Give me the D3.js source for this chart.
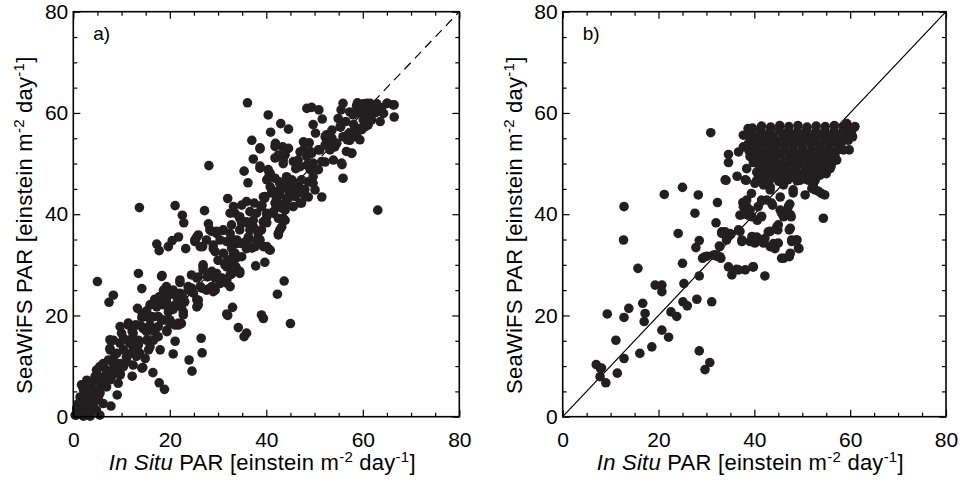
<!DOCTYPE html>
<html>
<head>
<meta charset="utf-8">
<script src="https://cdn.jsdelivr.net/npm/d3@7"></script>
<style>
  body { margin: 0; background: #fff; }
  text { font-family: "Liberation Sans", Arial, Helvetica, sans-serif; fill: #000; }
</style>
</head>
<body>
<svg id="chart" width="963" height="485"></svg>
<script>
// axis ticks (both axes, both panels)
const majorTicks = [0, 20, 40, 60, 80]
const minorTicks = [5, 10, 15, 25, 30, 35, 45, 50, 55, 65, 70, 75]
const panelNames = ['a)', 'b)']

// a) [in situ PAR, SeaWiFS PAR]
const pointsA = [
  [36.1,62.0],[63.1,40.8],[28.1,49.6],[13.7,41.3],[5.0,26.7],[8.3,24.0],[7.4,22.6],[21.1,41.7],[22.6,39.8],[22.9,38.3],
  [27.2,40.7],[17.3,34.1],[17.8,32.8],[19.7,33.6],[20.5,34.8],[23.3,33.2],[13.5,28.3],[18.4,27.9],[14.2,25.3],[13.3,21.4],
  [14.3,20.4],[15.5,19.6],[32.0,20.0],[33.0,21.6],[39.0,20.1],[39.4,19.4],[45.0,18.4],[34.2,17.6],[35.4,15.8],[26.5,15.5],
  [26.7,12.6],[24.0,11.2],[24.6,9.0],[20.7,12.4],[21.1,14.9],[16.5,8.7],[17.8,6.7],[18.9,5.4],[9.1,4.3],[7.8,2.1],
  [5.5,0.3],[14.4,9.7],[12.2,8.0],[37.8,29.8],[39.7,30.5],[43.7,26.8],[42.3,24.2],[32.0,43.1],
  [40.4,59.6],[40.9,56.2],[43.0,57.9],[44.6,56.8],[37.0,54.6],[38.7,52.9],[35.4,48.5],[36.2,46.2],[37.3,50.9],[38.7,49.5],
  [40.6,48.2],[41.9,54.0],[43.4,53.3],[43.9,51.7],[43.5,50.0],[40.8,45.4],[39.4,43.4],[42.7,46.4],[44.2,47.4],[46.1,49.0],
  [47.0,52.3],[47.7,54.3],[48.4,60.9],[49.4,61.1],[50.9,60.6],[49.7,57.7],[50.2,56.0],[51.6,58.8],[51.1,52.7],[49.4,52.0],
  [48.4,51.4],[49.1,49.4],[49.7,46.1],[51.5,43.4],[52.2,50.3],[52.2,55.3],[53.6,56.6],[53.2,54.6],[54.2,53.3],[54.9,58.9],
  [55.5,60.6],[55.9,61.9],[55.4,57.2],[55.9,55.3],[55.7,49.8],[55.9,47.1],[56.6,52.4],[57.3,54.6],[57.7,52.0],[58.1,57.7],
  [58.7,55.3],[57.3,60.2],[58.9,62.0],[59.8,60.6],[60.5,58.9],[60.8,61.9],[61.6,60.9],[62.9,61.8],[61.8,58.6],[63.6,58.3],
  [65.1,61.9],[66.5,61.6],[66.5,59.2],[64.3,59.9],[59.4,56.9],[58.0,56.3],
  [33.5,40.2],[34.5,39.2],[35.9,38.3],[34.5,36.9],[36.3,35.5],[37.3,37.5],[38.3,36.2],[39.4,38.5],[40.1,40.2],[40.6,33.0],
  [39.4,33.6],[33.5,32.3],[32.5,30.9],[31.8,29.6],[33.2,29.6],[32.8,28.2],[31.8,27.0],[30.4,26.3],[34.5,28.3],[29.7,36.2],
  [28.3,36.9],[27.6,34.9],[29.0,33.2],[26.3,33.6],[25.6,35.5],[26.9,29.6],[25.9,27.6],[24.5,28.0],[23.8,25.7],[24.9,24.4],
  [26.3,25.7],[27.6,25.0],[29.0,24.7],[27.8,27.6],[29.7,28.3],[25.6,21.7],[25.9,23.0],[23.1,22.7],[22.1,24.4],[20.7,25.0],
  [19.3,25.7],[22.1,26.5],[21.4,24.0],[19.7,24.0],[17.9,23.7],[17.3,21.7],[18.7,22.4],[19.7,20.7],[20.0,19.1],[21.1,18.1],
  [22.4,18.4],[22.8,20.7],[18.3,19.1],[16.6,19.7],[15.9,18.1],[14.5,17.4],[13.1,18.1],[12.4,16.5],[11.4,18.1],[9.7,17.8],
  [10.0,16.5],[11.7,14.5],[13.5,15.1],[15.2,15.1],[16.6,15.1],[15.6,13.2],[13.8,12.5],[12.4,13.2],[11.0,11.8],[9.7,14.5],
  [8.3,15.1],[7.6,13.2],[8.6,12.2],[9.0,10.5],[7.3,11.2],[6.2,10.5],[5.5,9.9],[4.8,9.2],[6.9,9.2],[8.3,9.2],
  [9.7,8.6],[10.4,9.9],[7.9,7.9],[9.3,6.6],[6.2,7.9],[4.8,7.2],[3.8,6.6],[2.8,7.2],[4.1,5.3],[3.1,4.6],
  [2.1,5.3],[1.4,3.9],[2.4,3.3],[3.8,3.3],[5.2,3.9],[5.5,5.6],[6.9,5.9],[6.2,2.6],[4.1,2.0],[2.9,1.0],
  [1.7,2.0],[0.8,1.0],[1.0,2.6],[0.6,0.3],[2.1,0.1],[3.5,0.1],[3.1,2.3],[4.8,1.3],[0.7,1.6],[2.4,4.6],
  [1.7,6.3],[5.5,4.6],[10.4,15.5],[12.2,16.9],[14.2,19.6],[15.2,20.9],[16.2,22.2],[16.9,23.2],[19.3,22.9],[20.7,21.2],
  [22.4,21.7],[15.2,17.4],[38.0,40.2],[37.3,38.8],[36.6,36.9],[38.7,34.9],[41.4,40.2],[42.1,41.5],[43.5,41.9],[43.9,38.8],
  [42.8,36.9],[42.5,36.2],[44.2,42.9],[44.9,44.2],[45.6,41.5],[47.0,42.2],[47.3,44.2],[46.6,45.8],[45.3,46.8],[48.0,44.9],
  [48.7,43.4],[44.2,45.2],[42.1,42.9],[41.1,44.2],[38.9,41.5],[35.9,42.5],[33.2,41.5],[32.5,40.2],[31.1,36.9],[30.4,34.9],
  [31.8,34.6],[33.9,34.2],[34.9,34.2],[37.7,33.6],[35.9,33.2],[34.9,31.6],[31.1,32.3],[30.0,30.9],[21.8,35.5],[25.2,34.6],
  [48.9,54.1],[52.5,55.7],[53.6,55.0],[55.3,57.3],[56.5,58.3],[57.3,56.0],[56.8,54.7],[58.7,55.3],[59.4,54.7],[57.7,52.1],
  [55.6,50.1],[53.9,50.7],[53.2,52.7],[52.2,53.7],[54.6,54.0],[50.8,52.7],[49.1,52.4],[47.7,52.7],[46.6,50.7],[45.6,50.4],
  [47.0,49.4],[48.4,49.7],[49.7,50.1],[51.5,50.4],[50.8,48.8],[49.1,48.8],[49.7,47.4],[48.7,46.4],[47.3,46.8],[46.0,46.1],
  [44.6,46.8],[44.2,45.5],[42.8,46.1],[41.8,47.1],[40.8,48.1],[40.1,46.8],[43.5,45.1],[45.3,44.8],[47.0,44.8],[48.0,43.8],
  [46.0,43.5],[44.6,43.2],[42.8,43.8],[42.1,44.5],[41.8,42.2],[43.2,41.2],[44.2,41.8],[41.5,40.5],[39.7,43.5],[39.1,41.8],
  [40.1,39.5],[43.5,39.2],[39.4,38.5],[43.2,37.5],[38.7,53.1],[41.8,53.4],[42.5,51.7],[43.5,50.7],[44.6,53.0],[41.8,51.1],
  [40.4,48.8],[38.7,49.1],[40.4,47.1],[50.1,44.8],[58.7,61.4],[60.1,61.8],[61.5,61.9],[62.5,61.1],[65.0,61.9],[66.3,61.6],
  [62.5,60.0],[60.8,60.0],[59.1,60.0],[58.0,59.6],[60.1,58.6],[61.5,58.6],[60.5,57.3],[59.8,56.7],[61.1,57.6],[63.2,60.3],
  [63.9,61.0],[34.9,41.8],[37.5,42.2],[39.7,43.2],[39.0,41.5],[42.2,44.3],[25.9,35.9],[25.2,34.9],[26.8,33.6],[28.0,38.1],
  [28.7,36.6],[29.7,36.6],[31.0,36.8],[32.8,37.9],[32.5,36.2],[34.5,39.5],[36.6,40.5],[35.9,38.5],[34.9,38.2],[39.0,36.9],
  [40.1,38.3],[42.5,39.2],[43.5,39.0],[42.5,35.9],[43.9,40.8],[47.3,42.2],[29.0,33.9],[29.4,32.6],[33.2,34.9],[33.9,34.9],
  [36.3,34.9],[38.0,34.9],[37.0,33.3],[40.1,33.6],[40.8,32.9],[32.8,33.3],[33.2,32.3],[32.1,31.0],[31.4,30.0],[33.7,31.3],
  [33.7,29.6],[34.5,28.7],[32.5,28.0],[30.8,27.4],[26.9,30.0],[26.9,29.0],[25.6,27.4],[28.7,28.7],[29.4,27.4],[30.4,27.0],
  [31.8,26.4],[32.5,25.7],[28.7,25.7],[28.0,25.2],[29.4,25.0],[26.6,25.4],[24.5,25.4],[23.8,25.0],[18.7,25.0],[19.4,23.7],
  [21.4,23.7],[22.8,23.4],[21.8,22.7],[25.6,23.1],[25.9,22.1],[18.0,23.7],[17.3,22.4],[18.7,22.1],[20.0,21.7],[21.1,22.1],
  [18.3,27.7],[22.1,27.0],[16.6,22.4],[16.2,19.8],[17.6,19.8],[18.7,19.1],[20.4,18.5],[21.8,18.1],[19.4,16.8],[17.6,17.8],
  [22.8,20.1],[31.8,20.3],[35.9,16.5],[15.9,22.1],[14.8,19.8],[11.4,18.5],[12.8,18.1],[14.2,17.8],[15.2,16.8],[16.9,16.8],
  [17.6,15.8],[19.4,17.1],[20.0,18.5],[21.8,18.5],[18.0,13.2],[15.9,13.8],[13.5,14.2],[11.8,15.2],[7.6,15.2],[7.6,13.5],
  [9.0,12.5],[10.4,13.2],[12.1,12.5],[13.1,11.9],[14.9,11.5],[14.2,9.6],[12.4,10.2],[11.1,10.9],[9.7,10.5],[8.3,10.5],
  [6.2,9.9],[4.9,9.2],[4.5,7.9],[6.9,8.2],[8.6,8.9],[9.7,8.2],[7.6,7.3],[5.9,6.6],[3.5,6.6],[2.8,5.3],
  [5.5,4.9],[2.1,4.0],[3.5,4.0],[4.9,3.3],[1.4,2.6],[2.8,2.3],[4.1,2.3],[1.0,1.3],[2.1,1.0],[3.5,1.0],[0.4,0.3]
]

// b) [in situ PAR, SeaWiFS PAR]
const pointsB = [
  [7.0,10.3],[7.9,9.5],[7.8,7.9],[9.0,6.7],[9.3,20.3],[11.1,15.1],[11.4,8.6],[12.8,11.5],[12.8,41.5],[12.7,34.9],
  [12.8,19.6],[13.8,21.4],[15.7,29.3],[16.1,12.5],[16.7,22.4],[17.2,20.4],[17.0,18.8],[18.6,13.8],[19.3,26.0],[20.7,26.0],
  [20.7,24.7],[20.7,17.1],[21.2,43.9],[22.1,15.7],[22.6,20.7],[23.8,19.8],[24.1,36.2],[25.0,30.3],[25.0,45.3],[25.3,26.3],
  [25.1,22.7],[26.0,21.9],[27.6,40.2],[27.8,33.4],[28.0,23.2],[28.3,43.8],[28.5,34.8],[28.5,27.8],[28.5,13.0],[29.2,31.3],
  [29.7,9.3],[30.7,10.7],[30.1,31.7],[30.9,56.1],[31.1,22.7],[32.0,38.3],[32.3,42.3],[32.1,31.7],[33.0,31.3],[32.7,33.7],
  [33.2,36.5],[33.9,36.5],[34.2,34.9],[34.1,46.7],[34.6,29.6],[34.6,51.8],[34.6,50.2],[35.1,36.0],[35.3,28.0],[36.3,29.1],
  [36.4,47.5],[36.7,52.3],[36.7,36.9],[37.0,39.8],[37.4,34.9],[37.6,42.3],[38.1,29.0],[37.7,55.6],[38.3,46.7],[38.4,41.5],
  [38.7,39.8],[39.1,34.6],[39.8,29.6],[40.5,35.5],[40.6,38.8],[39.4,44.1],[41.5,39.6],[42.2,27.8],[42.2,35.2],[42.6,42.8],
  [42.9,36.5],[43.3,33.6],[44.0,34.2],[44.3,33.2],[44.9,36.9],[45.0,37.9],[43.8,41.8],[45.4,43.4],[45.7,40.2],[45.7,31.3],
  [47.1,40.2],[47.3,36.9],[47.3,31.6],[47.4,42.0],[47.7,39.5],[47.8,34.9],[48.7,34.9],[49.3,33.2],[54.4,39.2],[52.7,44.8],
  [54.0,44.1],[54.7,43.8],[52.3,45.8],[59.8,52.7],[60.5,55.3],[60.8,57.1],[59.3,57.9],
  [52.0,45.1],[53.4,44.5],[50.6,43.8],[48.1,44.2],[43.3,44.8],[41.9,45.8],[40.1,46.1],[38.1,46.8],[33.9,46.8],[38.4,42.8],
  [37.7,41.5],[39.1,40.8],[40.8,41.5],[41.5,42.8],[37.4,39.9],[39.5,39.5],[41.5,39.5],[43.6,42.2],[45.4,40.8],[47.1,41.5],
  [47.5,39.9],[46.1,39.5],[44.7,37.5],[43.3,36.6],[47.5,37.2],[37.0,36.6],[34.9,36.2],[33.2,36.2],[34.6,35.6],[37.4,34.6],
  [39.5,35.6],[40.1,34.3],[41.9,34.3],[43.6,33.6],[45.0,34.3],[47.8,34.6],[48.9,34.9],[49.2,33.3],[47.5,32.3],[46.1,31.3],
  [32.8,33.6],[32.8,31.6],[31.4,31.9],[29.7,31.6],[36.7,29.0],[39.7,29.6],[40.5,34.6],[31.8,32.0],[8.1,9.6],
  [39.6,57.0],[41.5,57.4],[43.4,57.2],[45.3,57.5],[47.2,57.3],[49.1,57.5],[51.0,57.2],[52.9,57.4],[54.8,57.3],[56.7,57.5],
  [58.6,57.2],[59.9,57.0],[38.4,55.6],[40.3,55.3],[42.2,55.5],[44.1,55.2],[46.0,55.6],[47.9,55.4],[49.8,55.5],[51.7,55.2],
  [53.6,55.6],[55.5,55.3],[57.4,55.5],[59.3,55.4],[38.6,53.8],[40.4,53.5],[42.3,53.7],[44.2,53.4],[46.1,53.8],[48.0,53.6],
  [49.9,53.5],[51.8,53.8],[53.7,53.5],[55.6,53.7],[57.5,53.4],[39.7,51.6],[41.6,51.9],[43.5,51.7],[45.4,52.0],[47.3,51.8],
  [49.2,51.6],[51.1,51.9],[53.0,51.7],[54.9,51.9],[56.8,51.6],[39.8,50.2],[41.7,49.9],[43.6,50.1],[45.5,49.8],[47.4,50.2],
  [49.3,50.0],[51.2,49.9],[53.1,50.1],[55.0,49.8],[56.3,50.3],[40.5,48.3],[42.4,48.0],[44.3,48.4],[46.2,48.1],[48.1,48.3],
  [50.0,48.0],[51.9,48.2],[53.8,48.4],[55.0,48.0],[41.3,46.6],[43.2,46.9],[45.1,46.5],[47.0,46.8],[48.9,46.6],[50.8,46.9],
  [52.7,46.7],[38.7,56.9],[37.7,53.3],[39.1,51.4],[38.4,49.0],[40.5,46.7],[43.3,45.4],[46.1,45.8],[48.1,44.8],[49.5,46.7],
  [51.3,46.7],[53.7,47.7],[55.8,49.0],[57.2,50.7],[58.6,52.7],[59.6,54.6],[61.0,57.3],[60.3,55.3],
  [39.5,56.3],[41.4,56.5],[43.3,56.2],[45.2,56.6],[47.1,56.4],[49.0,56.3],[50.9,56.6],[52.8,56.2],[54.7,56.5],[56.6,56.3],
  [58.5,56.6],[60.2,56.2],[39.4,54.6],[41.3,54.4],[43.2,54.7],[45.1,54.3],[47.0,54.6],[48.9,54.5],[50.8,54.7],[52.7,54.3],
  [54.6,54.6],[56.5,54.4],[58.4,54.5],[38.9,52.5],[40.7,52.8],[42.6,52.6],[44.5,52.9],[46.4,52.7],[48.3,52.5],[50.2,52.8],
  [52.1,52.6],[54.0,52.8],[55.9,52.5],[57.8,52.8],[40.7,50.8],[42.6,51.1],[44.5,50.9],[46.4,50.7],[48.3,51.0],[50.2,50.8],
  [52.1,51.1],[54.0,50.9],[55.9,50.7],[41.1,49.2],[43.0,48.9],[44.9,49.3],[46.8,49.0],[48.7,49.2],[50.6,48.9],[52.5,49.3],
  [54.4,49.0],[56.0,49.4],[41.9,47.5],[43.8,47.2],[45.7,47.6],[47.6,47.3],[49.5,47.5],[51.4,47.2],[53.0,47.6]
]

const svg = d3.select('#chart')
const plotTop = 11.7
const plotBottom = 416.7

const panels = [
  { data: pointsA, name: panelNames[0], left: 73.3, right: 459.3, dash: '9,6' },
  { data: pointsB, name: panelNames[1], left: 562.7, right: 946, dash: null }
]

// 刻度轴（向内）
function tickAxis(axisFn, scale, values, size) {
  return axisFn(scale).tickValues(values).tickSizeInner(-size).tickSizeOuter(0)
}

function styleAxis(sel, keepText) {
  sel.select('.domain').remove()
  sel.selectAll('line').attr('stroke', '#000').attr('stroke-width', 1.2)
  if (!keepText) sel.selectAll('text').remove()
  else sel.selectAll('text').attr('font-size', 21).attr('font-family', '"Liberation Sans", Arial, sans-serif').attr('fill', '#000')
}

panels.forEach(function (p) {
  var w = p.right - p.left
  var h = plotBottom - plotTop
  var x = d3.scaleLinear().domain([0, 80]).range([0, w])
  var y = d3.scaleLinear().domain([0, 80]).range([h, 0])
  var g = svg.append('g').attr('transform', `translate(${p.left},${plotTop})`)

  // 1:1 线
  g.append('line')
    .attr('x1', x(0)).attr('y1', y(0))
    .attr('x2', x(80)).attr('y2', y(80))
    .attr('stroke', '#000')
    .attr('stroke-width', 1.2)
    .attr('stroke-dasharray', p.dash)

  // 散点
  g.append('g').selectAll('circle')
    .data(p.data)
    .join('circle')
    .attr('cx', d => x(d[0]))
    .attr('cy', d => y(d[1]))
    .attr('r', 4.8)
    .attr('fill', '#231f20')

  // 四边刻度
  g.append('g').attr('transform', `translate(0,${h})`)
    .call(tickAxis(d3.axisBottom, x, majorTicks, 7).tickPadding(15)).call(styleAxis, true)
  g.append('g').attr('transform', `translate(0,${h})`)
    .call(tickAxis(d3.axisBottom, x, minorTicks, 4)).call(styleAxis, false)
  g.append('g').call(tickAxis(d3.axisTop, x, majorTicks, 7)).call(styleAxis, false)
  g.append('g').call(tickAxis(d3.axisTop, x, minorTicks, 4)).call(styleAxis, false)
  g.append('g')
    .call(tickAxis(d3.axisLeft, y, majorTicks, 7).tickPadding(5)).call(styleAxis, true)
  g.append('g').call(tickAxis(d3.axisLeft, y, minorTicks, 4)).call(styleAxis, false)
  g.append('g').attr('transform', `translate(${w},0)`)
    .call(tickAxis(d3.axisRight, y, majorTicks, 7)).call(styleAxis, false)
  g.append('g').attr('transform', `translate(${w},0)`)
    .call(tickAxis(d3.axisRight, y, minorTicks, 4)).call(styleAxis, false)

  // 边框
  g.append('rect')
    .attr('width', w).attr('height', h)
    .attr('fill', 'none').attr('stroke', '#000').attr('stroke-width', 1.6)

  // 面板标记
  g.append('text')
    .attr('x', 20).attr('y', 28)
    .attr('font-family', '"Liberation Serif", "Times New Roman", serif')
    .attr('font-size', 19)
    .text(p.name)

  // x 轴标题
  var xt = svg.append('text')
    .attr('x', p.left + w / 2 - 4)
    .attr('y', 470)
    .attr('text-anchor', 'middle')
    .attr('font-size', 22)
    .attr('letter-spacing', 0.25)
  xt.append('tspan').attr('font-style', 'italic').text('In Situ')
  xt.append('tspan').text(' PAR [einstein m')
  xt.append('tspan').attr('font-size', 15).attr('dy', -8).text('-2')
  xt.append('tspan').attr('dy', 8).text(' day')
  xt.append('tspan').attr('font-size', 15).attr('dy', -8).text('-1')
  xt.append('tspan').attr('dy', 8).text(']')

  // y 轴标题
  var yt = svg.append('text')
    .attr('transform', `translate(${p.left - 41},${plotTop + h / 2 + 11}) rotate(-90)`)
    .attr('text-anchor', 'middle')
    .attr('font-size', 22)
    .attr('letter-spacing', 0.25)
  yt.append('tspan').text('SeaWiFS PAR [einstein m')
  yt.append('tspan').attr('font-size', 15).attr('dy', -8).text('-2')
  yt.append('tspan').attr('dy', 8).text(' day')
  yt.append('tspan').attr('font-size', 15).attr('dy', -8).text('-1')
  yt.append('tspan').attr('dy', 8).text(']')
})
</script>
</body>
</html>
